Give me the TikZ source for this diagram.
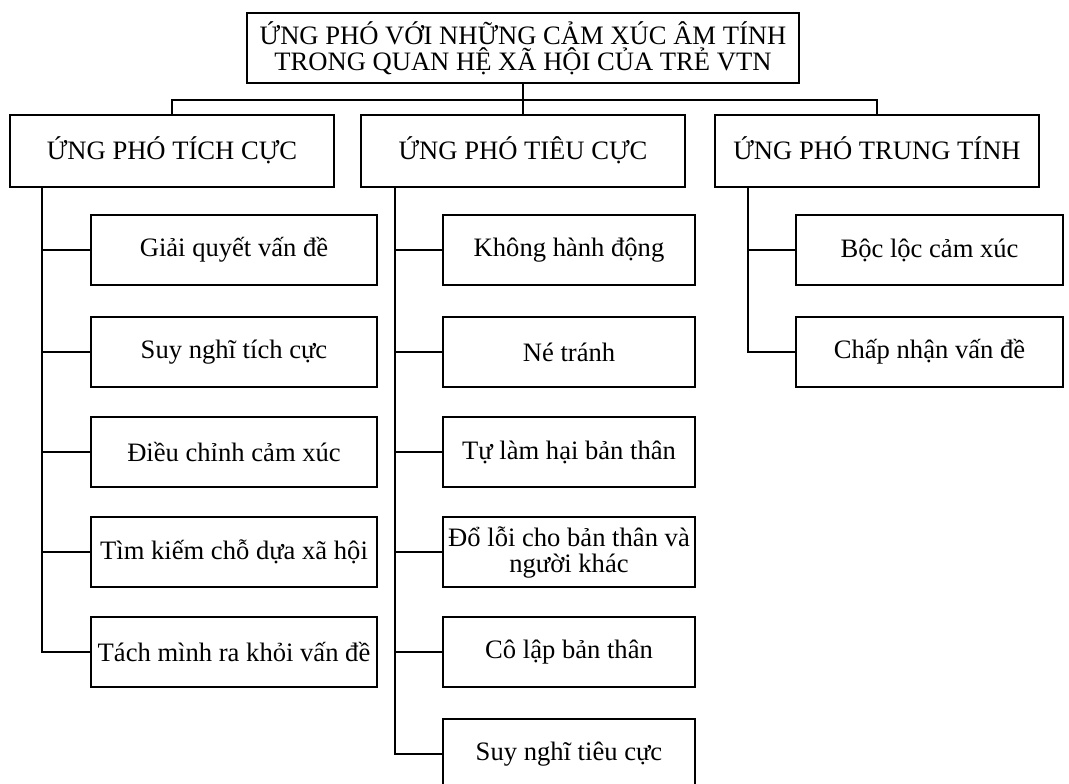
\documentclass[tikz,border=0pt]{standalone}
\usepackage{fontspec}
\setmainfont{Liberation Serif}
\usetikzlibrary{positioning}

\begin{document}
\begin{tikzpicture}[x=0.5pt,y=-0.5pt,
  box/.style={draw, line width=1pt, inner sep=1pt, align=center,
    minimum height=35pt, font=\fontsize{13.3}{13}\selectfont},
  head/.style={box, minimum width=162pt, minimum height=36pt, text depth=3pt},
  leftbox/.style={box, minimum width=143pt},
  midbox/.style={box, minimum width=126pt},
  rightbox/.style={box, minimum width=133.5pt},
  link/.style={line width=1pt}]
\useasboundingbox (0,0) rectangle (1069,783);

%%% goc
\node[box, minimum width=276pt] (root) at (523,48)
  {ỨNG PHÓ VỚI NHỮNG CẢM XÚC ÂM TÍNH\\TRONG QUAN HỆ XÃ HỘI CỦA TRẺ VTN};

%%% ba nhanh
\node[head] (pos) at (172,151) {ỨNG PHÓ TÍCH CỰC};
\node[head] (neg) at (523,151) {ỨNG PHÓ TIÊU CỰC};
\node[head] (neu) at (877,151) {ỨNG PHÓ TRUNG TÍNH};

\coordinate (bus) at (523,100);
\draw[link] (root.south) -- (neg.north);
\draw[link] (pos.north) |- (bus) -| (neu.north);

%% tich cuc
\node[leftbox] (p1) at (234,250) {Giải quyết vấn đề};
\node[leftbox] (p2) at (234,352) {Suy nghĩ tích cực};
\node[leftbox] (p3) at (234,452) {Điều chỉnh cảm xúc};
\node[leftbox] (p4) at (234,552) {Tìm kiếm chỗ dựa xã hội};
\node[leftbox] (p5) at (234,652) {Tách mình ra khỏi vấn đề};

%% tieu cuc
\node[midbox] (n1) at (569,250) {Không hành động};
\node[midbox] (n2) at (569,352) {Né tránh};
\node[midbox] (n3) at (569,452) {Tự làm hại bản thân};
\node[midbox] (n4) at (569,552) {Đổ lỗi cho bản thân và\\người khác};
\node[midbox] (n5) at (569,652) {Cô lập bản thân};
\node[midbox] (n6) at (569,754) {Suy nghĩ tiêu cực};

%% trung tinh
\node[rightbox] (t1) at (929.5,250) {Bộc lộc cảm xúc};
\node[rightbox] (t2) at (929.5,352) {Chấp nhận vấn đề};

%% duong noi
\coordinate (posline) at (42,187);
\coordinate (negline) at (395,187);
\coordinate (neuline) at (748,187);

\draw[link] (posline) |- (p1.west);
\draw[link] (posline) |- (p2.west);
\draw[link] (posline) |- (p3.west);
\draw[link] (posline) |- (p4.west);
\draw[link] (posline) |- (p5.west);

\draw[link] (negline) |- (n1.west);
\draw[link] (negline) |- (n2.west);
\draw[link] (negline) |- (n3.west);
\draw[link] (negline) |- (n4.west);
\draw[link] (negline) |- (n5.west);
\draw[link] (negline) |- (n6.west);

\draw[link] (neuline) |- (t1.west);
\draw[link] (neuline) |- (t2.west);

\end{tikzpicture}
\end{document}
